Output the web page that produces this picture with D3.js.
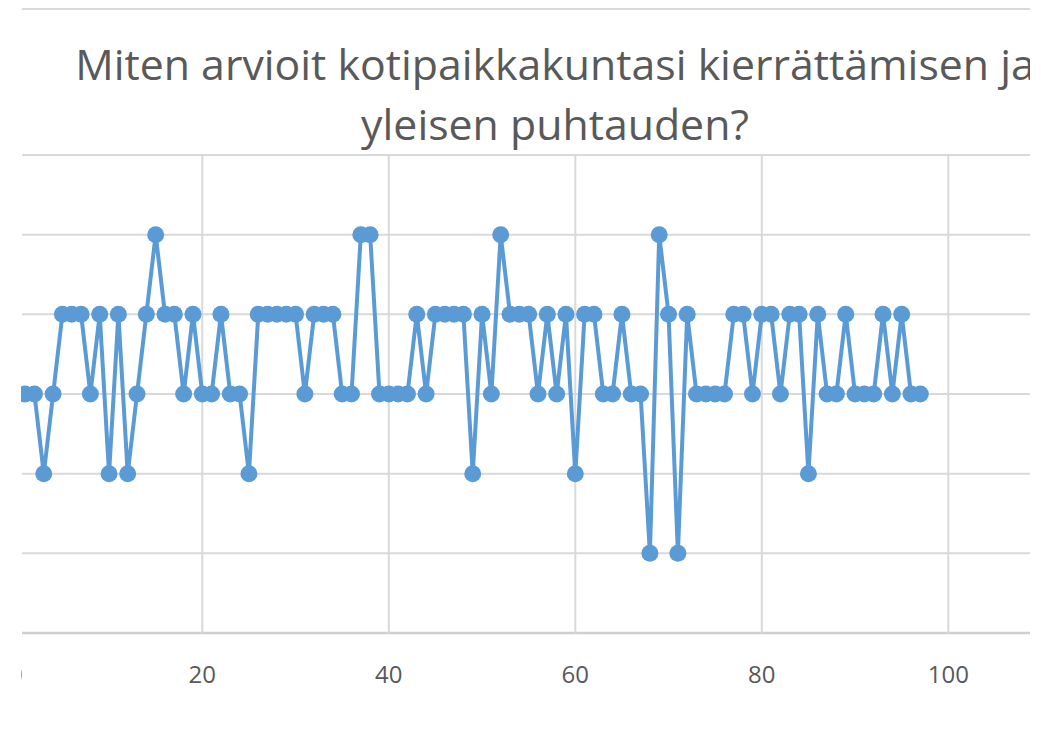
<!DOCTYPE html>
<html>
<head>
<meta charset="utf-8">
<script src="https://cdn.jsdelivr.net/npm/d3@7"></script>
<style>
  body { margin: 0; background: #fff; }
</style>
</head>
<body>
<div id="chart"></div>
<script>
// Data
const titleLines = ["Miten arvioit kotipaikkakuntasi kierrättämisen ja", "yleisen puhtauden?"];
const respondent = d3.range(1, 98);
const rating = [
  3, 3, 2, 3, 4, 4, 4, 3, 4, 2,
  4, 2, 3, 4, 5, 4, 4, 3, 4, 3,
  3, 4, 3, 3, 2, 4, 4, 4, 4, 4,
  3, 4, 4, 4, 3, 3, 5, 5, 3, 3,
  3, 3, 4, 3, 4, 4, 4, 4, 2, 4,
  3, 5, 4, 4, 4, 3, 4, 3, 4, 2,
  4, 4, 3, 3, 4, 3, 3, 1, 5, 4,
  1, 4, 3, 3, 3, 3, 4, 4, 3, 4,
  4, 3, 4, 4, 2, 4, 3, 3, 4, 3,
  3, 3, 4, 3, 4, 3, 3
];
const xTicks = [0, 20, 40, 60, 80, 100];
const yTicks = [0, 1, 2, 3, 4, 5, 6];

const data = respondent.map((r, i) => ({ x: r, y: rating[i] }));

const width = 1041;
const height = 751;
const clipLeft = 21, clipRight = 1030;

const svg = d3.select("#chart")
  .append("svg")
  .attr("width", width)
  .attr("height", height)
  .style("font-family", "'Open Sans', sans-serif");

// the reference is a cropped screenshot, so crop the drawing the same way
svg.append("clipPath").attr("id", "crop")
  .append("rect")
  .attr("x", clipLeft).attr("y", 0)
  .attr("width", clipRight - clipLeft).attr("height", height);

const g = svg.append("g").attr("clip-path", "url(#crop)");

const x = d3.scaleLinear().domain([0, 100]).range([15.8, 948.3]);
const y = d3.scaleLinear().domain([0, 6]).range([633, 155]);

// top border line
g.append("line")
  .attr("x1", 22).attr("x2", clipRight)
  .attr("y1", 9).attr("y2", 9)
  .attr("stroke", "#d9d9d9").attr("stroke-width", 2);

// horizontal gridlines
g.append("g")
  .selectAll("line")
  .data(yTicks)
  .join("line")
  .attr("x1", 22).attr("x2", clipRight)
  .attr("y1", d => y(d)).attr("y2", d => y(d))
  .attr("stroke", d => d === 0 ? "#cfcfcf" : "#d9d9d9")
  .attr("stroke-width", d => d === 0 ? 2.5 : 2);

// vertical gridlines
g.append("g")
  .selectAll("line")
  .data(xTicks)
  .join("line")
  .attr("x1", d => x(d)).attr("x2", d => x(d))
  .attr("y1", y(6)).attr("y2", y(0))
  .attr("stroke", "#d9d9d9")
  .attr("stroke-width", 2);

// x tick labels
g.append("g")
  .selectAll("text")
  .data(xTicks)
  .join("text")
  .attr("x", d => x(d))
  .attr("y", 683)
  .attr("text-anchor", "middle")
  .attr("fill", "#595959")
  .attr("font-size", "24px")
  .text(d => d);

// series line
g.append("path")
  .datum(data)
  .attr("fill", "none")
  .attr("stroke", "#5b9bd5")
  .attr("stroke-width", 4)
  .attr("stroke-linejoin", "round")
  .attr("d", d3.line().x(d => x(d.x)).y(d => y(d.y)));

// markers
g.append("g")
  .selectAll("circle")
  .data(data)
  .join("circle")
  .attr("cx", d => x(d.x))
  .attr("cy", d => y(d.y))
  .attr("r", 8.5)
  .attr("fill", "#5b9bd5");

// title
const title = g.append("text")
  .attr("text-anchor", "middle")
  .attr("fill", "#595959")
  .attr("font-size", "40px");

title.selectAll("tspan")
  .data(titleLines)
  .join("tspan")
  .attr("x", 555)
  .attr("y", (d, i) => 80 + i * 60)
  .text(d => d);

// fit the title to the measured width of the second line
const line2 = title.selectAll("tspan").nodes()[1];
const w = line2.getComputedTextLength();
title.attr("font-size", (40 * 388 / w).toFixed(1) + "px");
</script>
</body>
</html>
